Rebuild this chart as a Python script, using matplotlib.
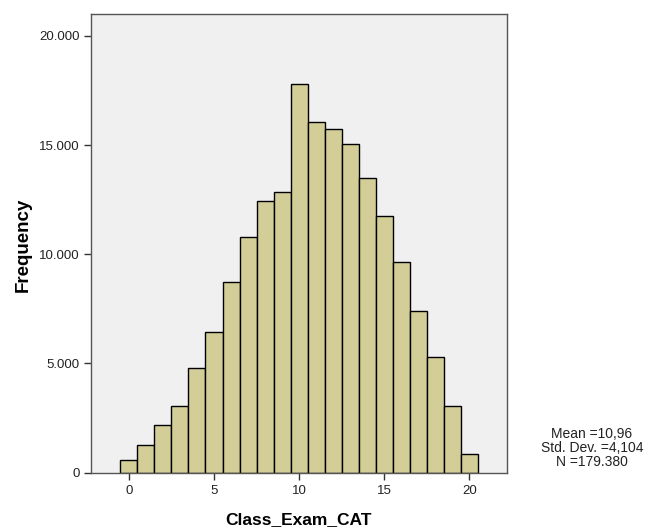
import matplotlib
matplotlib.use("Agg")
import matplotlib.pyplot as plt

plt.rcParams["font.family"] = ["Liberation Sans", "DejaVu Sans"]

# histogram counts per score (bin width 1, centred on integers)
scores = list(range(21))
counts = [581, 1254, 2184, 3068, 4780, 6456, 8732, 10778, 12427, 12866,
          17797, 16044, 15737, 15037, 13493, 11740, 9647, 7418, 5311, 3054, 856]

x_ticks = [0, 5, 10, 15, 20]
y_ticks = [0, 5000, 10000, 15000, 20000]
y_tick_labels = ["0", "5.000", "10.000", "15.000", "20.000"]

stats_lines = ["Mean =10,96", "Std. Dev. =4,104", "N =179.380"]

BAR = "#d3ce97"
PANEL = "#f0f0f0"
W, H = 646, 528

fig = plt.figure(figsize=(W / 100, H / 100), dpi=100)
ax = fig.add_axes([0.1416, 0.1047, 0.6428, 0.8688])
ax.set_facecolor(PANEL)

ax.bar(scores, counts, width=1.0, color=BAR, edgecolor="black", linewidth=1.0)

ax.set_xlim(-2.2, 22.2)
ax.set_ylim(0, 21000)
ax.set_xticks(x_ticks)
ax.set_yticks(y_ticks)
ax.set_yticklabels(y_tick_labels)
ax.tick_params(axis="both", labelsize=9.5, length=5, width=1, color="#333333",
               labelcolor="#222222")

for sp in ax.spines.values():
    sp.set_color("#555555")
    sp.set_linewidth(1.0)

# axis titles placed by pixel position (as in the SPSS output)
fig.text(298 / W, 1 - 520 / H, "Class_Exam_CAT", fontsize=12.5,
         fontweight="bold", ha="center", va="center")
fig.text(23 / W, 1 - 245 / H, "Frequency", fontsize=13.5,
         fontweight="bold", ha="center", va="center", rotation=90)

fig.text(592 / W, 1 - 448 / H, "\n".join(stats_lines), fontsize=10,
         ha="center", va="center", linespacing=1.0, color="#222222")

fig.savefig("out.png", dpi=100)
